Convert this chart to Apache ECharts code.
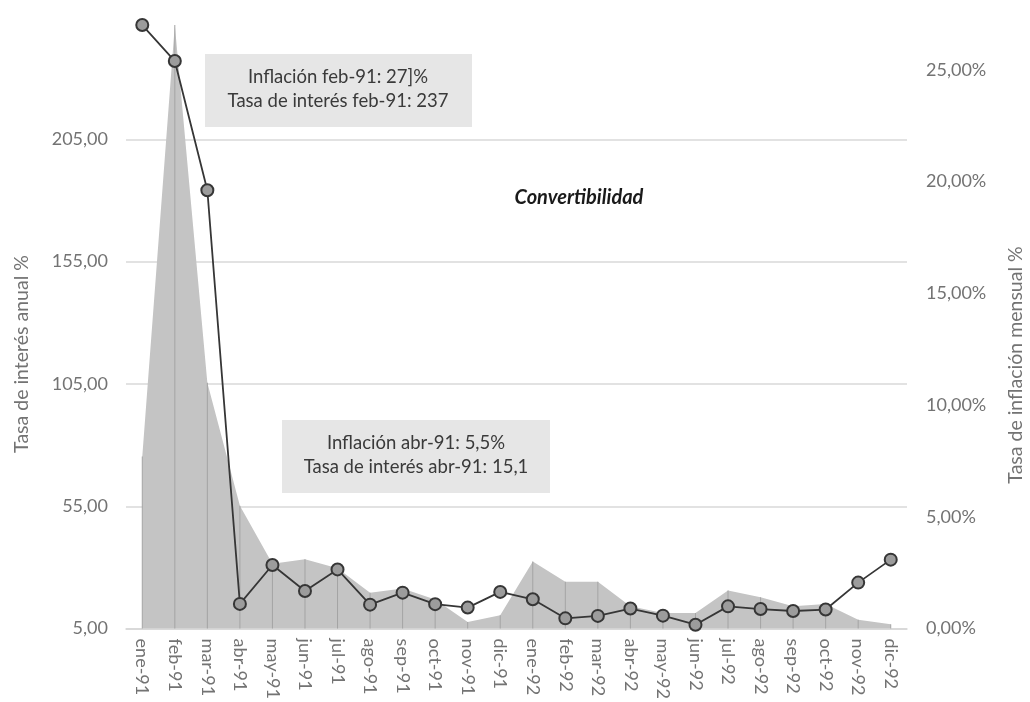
<!DOCTYPE html>
<html>
<head>
<meta charset="utf-8">
<script src="https://cdn.jsdelivr.net/npm/echarts@6/dist/echarts.min.js"></script>
<style>
  html, body { margin: 0; padding: 0; background: #fff; }
  #chart { width: 1030px; height: 702px; }
</style>
</head>
<body>
<div id="chart"></div>
<script>
// Meses de la serie (enero 1991 - diciembre 1992)
var meses = ['ene-91','feb-91','mar-91','abr-91','may-91','jun-91','jul-91','ago-91','sep-91','oct-91','nov-91','dic-91',
             'ene-92','feb-92','mar-92','abr-92','may-92','jun-92','jul-92','ago-92','sep-92','oct-92','nov-92','dic-92'];

// Tasa de interés anual (%), eje izquierdo
var tasaInteres = [251.7, 237.0, 184.2, 15.1, 31.0, 20.4, 29.2, 14.8, 19.7, 15.0, 13.6, 20.0,
                   17.0, 9.2, 10.2, 13.2, 10.3, 6.6, 14.1, 13.0, 12.2, 12.8, 23.8, 33.2];

// Tasa de inflación mensual (%), eje derecho
var inflacion = [7.7, 27.0, 11.0, 5.5, 2.9, 3.1, 2.7, 1.6, 1.8, 1.3, 0.3, 0.6,
                 3.0, 2.1, 2.1, 1.0, 0.7, 0.7, 1.7, 1.4, 1.0, 1.1, 0.4, 0.2];

// Marcas de los ejes
var ticksInteres = { min: 5, max: 255, interval: 50 };
var ticksInflacion = { min: 0, max: 27.36, interval: 5 };

var FONT = 'Lato';
var GRIS_TEXTO = '#737373';
var TAM_EJE = 18;

function coma(v, dec) { return v.toFixed(dec).replace('.', ','); }

var chart = echarts.init(document.getElementById('chart'), null, { renderer: 'canvas' });

chart.setOption({
  animation: false,
  backgroundColor: '#ffffff',
  textStyle: { fontFamily: FONT },
  grid: { left: 126, right: 123, top: 17, bottom: 71, containLabel: false },
  xAxis: {
    type: 'category',
    data: meses,
    boundaryGap: true,
    axisLine: { show: true, lineStyle: { color: '#d6d6d6', width: 1.5 } },
    axisTick: { show: false },
    axisLabel: { rotate: -90, margin: 10, color: GRIS_TEXTO, fontSize: TAM_EJE, fontFamily: FONT, interval: 0 },
    splitLine: { show: false }
  },
  yAxis: [
    {
      type: 'value',
      min: ticksInteres.min, max: ticksInteres.max, interval: ticksInteres.interval,
      axisLine: { show: false }, axisTick: { show: false },
      axisLabel: { margin: 18, color: GRIS_TEXTO, fontSize: TAM_EJE, fontFamily: FONT, showMaxLabel: false,
                   formatter: function (v) { return coma(v, 2); } },
      splitLine: { show: true, showMaxLine: false, lineStyle: { color: '#d9d9d9', width: 1.5 } }
    },
    {
      type: 'value',
      min: ticksInflacion.min, max: ticksInflacion.max, interval: ticksInflacion.interval,
      axisLine: { show: false }, axisTick: { show: false },
      axisLabel: { margin: 19, color: GRIS_TEXTO, fontSize: TAM_EJE, fontFamily: FONT, showMaxLabel: false,
                   formatter: function (v) { return coma(v, 2) + '%'; } },
      splitLine: { show: false }
    }
  ],
  series: [
    {
      name: 'Inflación mensual',
      type: 'line',
      yAxisIndex: 1,
      data: inflacion,
      symbol: 'none',
      lineStyle: { width: 0 },
      areaStyle: { color: '#c4c4c4', opacity: 1 },
      z: 1
    },
    {
      // líneas de caída desde cada punto de inflación
      name: 'Caídas',
      type: 'bar',
      yAxisIndex: 1,
      data: inflacion,
      barWidth: 1,
      itemStyle: { color: '#a4a4a4' },
      z: 2
    },
    {
      name: 'Tasa de interés',
      type: 'line',
      yAxisIndex: 0,
      data: tasaInteres,
      symbol: 'circle',
      symbolSize: 12,
      lineStyle: { color: '#363636', width: 1.8 },
      itemStyle: { color: '#9c9c9c', borderColor: '#363636', borderWidth: 2 },
      z: 5
    }
  ],
  graphic: [
    // nombres de los ejes
    { type: 'text', silent: true, rotation: Math.PI / 2, position: [22, 354],
      style: { text: 'Tasa de interés anual %', font: '19.5px "' + FONT + '"', fill: GRIS_TEXTO,
               textAlign: 'center', textVerticalAlign: 'middle' } },
    { type: 'text', silent: true, rotation: Math.PI / 2, position: [1016, 365],
      style: { text: 'Tasa de inflación mensual %', font: '19.5px "' + FONT + '"', fill: GRIS_TEXTO,
               textAlign: 'center', textVerticalAlign: 'middle' } },
    // recuadro febrero 1991
    { type: 'rect', silent: true, shape: { x: 205, y: 54, width: 267, height: 73 },
      style: { fill: '#e6e6e6' }, z: 10 },
    { type: 'text', silent: true, position: [338, 77], z: 11,
      style: { text: 'Inflación feb-91: 27]%', font: '18.5px "' + FONT + '"', fill: '#3a3a3a',
               textAlign: 'center', textVerticalAlign: 'middle' } },
    { type: 'text', silent: true, position: [338, 101], z: 11,
      style: { text: 'Tasa de interés feb-91: 237', font: '18.5px "' + FONT + '"', fill: '#3a3a3a',
               textAlign: 'center', textVerticalAlign: 'middle' } },
    // recuadro abril 1991
    { type: 'rect', silent: true, shape: { x: 282, y: 420, width: 268, height: 73 },
      style: { fill: '#e6e6e6' }, z: 10 },
    { type: 'text', silent: true, position: [416, 443], z: 11,
      style: { text: 'Inflación abr-91: 5,5%', font: '18.5px "' + FONT + '"', fill: '#3a3a3a',
               textAlign: 'center', textVerticalAlign: 'middle' } },
    { type: 'text', silent: true, position: [416, 467], z: 11,
      style: { text: 'Tasa de interés abr-91: 15,1', font: '18.5px "' + FONT + '"', fill: '#3a3a3a',
               textAlign: 'center', textVerticalAlign: 'middle' } },
    // rótulo del período
    { type: 'text', silent: true, position: [579, 198], z: 11,
      style: { text: 'Convertibilidad', font: 'italic bold 20px "' + FONT + '"', fill: '#1a1a1a',
               textAlign: 'center', textVerticalAlign: 'middle' } }
  ]
});
</script>
</body>
</html>
